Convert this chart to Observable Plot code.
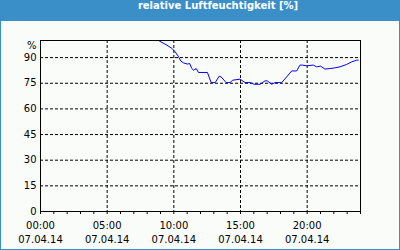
<!DOCTYPE html>
<html>
<head>
<meta charset="utf-8">
<script src="https://cdn.jsdelivr.net/npm/d3@7"></script>
<script src="https://cdn.jsdelivr.net/npm/@observablehq/plot@0.6"></script>
<style>
  html, body { margin: 0; padding: 0; background: #fff; }
  #wrap { position: relative; width: 400px; height: 250px; background: #fafcfa; overflow: hidden; }
  #title { height: 21px; line-height: 20px; background: #3b8fc8; color: #fff;
    font: bold 10px "DejaVu Sans", Verdana, sans-serif; text-align: center; padding-left: 36px; box-sizing: border-box; }
  #border { position: absolute; left: 0; top: 0; width: 400px; height: 250px; box-sizing: border-box;
    border: 1px solid #3b8fc8; pointer-events: none; }
  svg { display: block; }
</style>
</head>
<body>
<div id="wrap">
  <div id="title">relative Luftfeuchtigkeit [%]</div>
  <div id="chart"></div>
  <div id="border"></div>
</div>
<script>
// hours since 00:00 on 07.04.14
const hours = [8.93, 9.48, 9.85, 10.1, 10.35, 10.53, 10.73, 11.03, 11.18, 11.35, 11.48, 11.68, 11.85, 12.52,
  12.8, 13.1, 13.4, 13.55, 13.92, 14.22, 14.42, 14.97, 15.34, 15.72, 16.02, 16.47, 16.84, 17.0, 17.34,
  17.59, 18.09, 18.46, 18.84, 19.21, 19.46, 19.66, 19.96, 20.46, 20.71, 21.01, 21.33, 21.7, 22.08,
  22.46, 22.96, 23.33, 23.71, 23.83];
const humidity = [99.6, 97.3, 95.4, 93.4, 90.5, 87.9, 86.9, 86.2, 86.6, 83.6, 82.6, 83.6, 81.3, 81.3,
  75.4, 75.4, 79.1, 78.7, 75.4, 75.4, 76.8, 77.4, 75.4, 75.4, 74.4, 74.4, 76.4, 76.4, 74.4,
  75.4, 75.4, 78.7, 82.2, 82.2, 85.6, 85.6, 85.2, 85.6, 84.6, 85.0, 83.3, 83.6, 84.0,
  84.6, 86.0, 87.5, 88.5, 88.5];
const yTicks = [0, 15, 30, 45, 60, 75, 90];
const yUnit = "%";
const xLabelHours = [0, 5, 10, 15, 20];
const xLabelTimes = ["00:00", "05:00", "10:00", "15:00", "20:00"];
const xLabelDate = "07.04.14";
const xMinorHours = d3.range(0, 25);

const data = hours.map((h, i) => ({h, v: humidity[i]}));
const font = "DejaVu Sans, Verdana, sans-serif";

const chart = Plot.plot({
  width: 400,
  height: 229,
  marginTop: 19,
  marginBottom: 39,
  marginLeft: 40,
  marginRight: 40,
  style: {background: "transparent", fontFamily: font, fontSize: "10px", color: "#000"},
  x: {domain: [0, 24], axis: null},
  y: {domain: [0, 100], axis: null},
  marks: [
    Plot.ruleX(xLabelHours.slice(1), {stroke: "#000", strokeWidth: 1, strokeDasharray: "3,2"}),
    Plot.ruleY(yTicks.slice(1), {stroke: "#000", strokeWidth: 1, strokeDasharray: "3,2"}),
    Plot.line(data, {x: "h", y: "v", stroke: "#0000ff", strokeWidth: 1}),
    Plot.frame({stroke: "#000", strokeWidth: 1}),
    Plot.axisX(xMinorHours, {tickSize: 3, tickFormat: () => "", stroke: "#000", label: null}),
    Plot.axisX(xLabelHours, {
      tickSize: 0, tickPadding: 8, fontSize: 10, lineHeight: 1.4, fill: "#000", label: null,
      tickFormat: (d) => xLabelTimes[xLabelHours.indexOf(d)] + "\n" + xLabelDate
    }),
    Plot.axisY(yTicks, {tickSize: 0, tickPadding: 4, fontSize: 10, fill: "#000", label: null}),
    Plot.text([yUnit], {frameAnchor: "top-left", dx: -4, dy: 5, textAnchor: "end", lineAnchor: "middle", fontSize: 10, fill: "#000"})
  ]
});
document.getElementById("chart").appendChild(chart);
</script>
</body>
</html>
